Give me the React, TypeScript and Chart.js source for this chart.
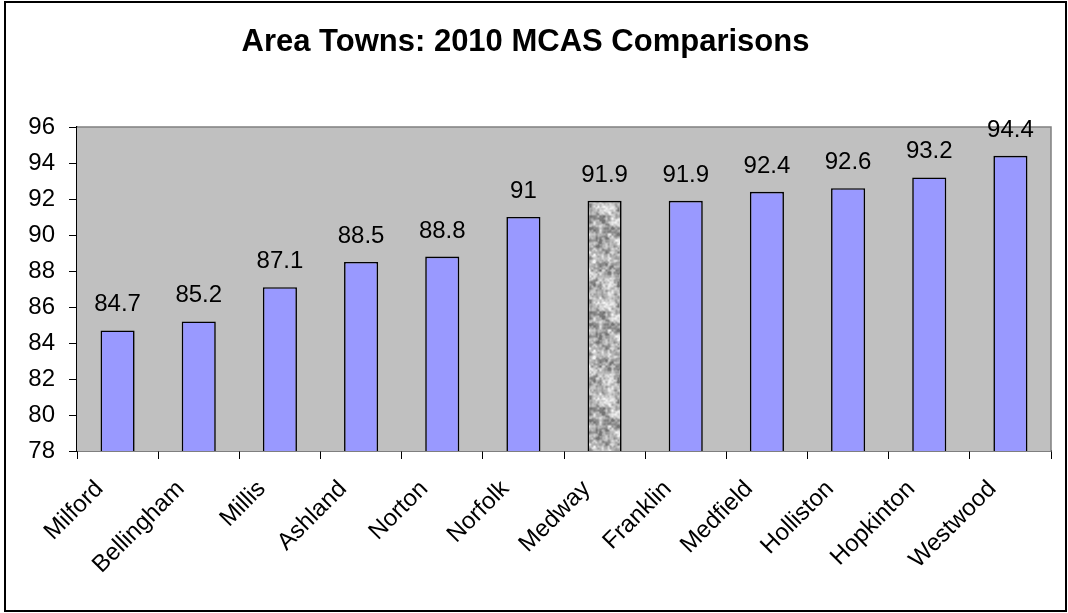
import React, { useEffect, useRef } from "react";
import { Chart, registerables } from "chart.js";

Chart.register(...registerables);

const towns = ["Milford", "Bellingham", "Millis", "Ashland", "Norton", "Norfolk", "Medway", "Franklin", "Medfield", "Holliston", "Hopkinton", "Westwood"];
const scores = [84.7, 85.2, 87.1, 88.5, 88.8, 91, 91.9, 91.9, 92.4, 92.6, 93.2, 94.4];
const highlightTown = "Medway";
const titleText = "Area Towns: 2010 MCAS Comparisons";
const yMin = 78;
const yMax = 96;
const yStep = 2;

const FONT = "Arial, 'Liberation Sans', sans-serif";

function hash(x: number, y: number) {
  const s = Math.sin(x * 12.9898 + y * 78.233) * 43758.5453;
  return s - Math.floor(s);
}

function valueNoise(x: number, y: number, cell: number, size: number) {
  const n = size / cell;
  const gx = x / cell;
  const gy = y / cell;
  const x0 = Math.floor(gx), y0 = Math.floor(gy);
  const fx = gx - x0, fy = gy - y0;
  const sx = fx * fx * (3 - 2 * fx), sy = fy * fy * (3 - 2 * fy);
  const w = (a: number) => ((a % n) + n) % n;
  const a = hash(w(x0), w(y0)), b = hash(w(x0 + 1), w(y0));
  const c = hash(w(x0), w(y0 + 1)), d = hash(w(x0 + 1), w(y0 + 1));
  return (a * (1 - sx) + b * sx) * (1 - sy) + (c * (1 - sx) + d * sx) * sy;
}

function makeGranite(ctx: CanvasRenderingContext2D) {
  const size = 96;
  const off = document.createElement("canvas");
  off.width = size;
  off.height = size;
  const octx = off.getContext("2d")!;
  const img = octx.createImageData(size, size);
  for (let y = 0; y < size; y++) {
    for (let x = 0; x < size; x++) {
      const v = 0.4 * valueNoise(x, y, 6, size) + 0.35 * valueNoise(x, y, 3, size) + 0.25 * valueNoise(x, y, 2, size);
      const t = Math.max(0, Math.min(1, (v - 0.2) / 0.6));
      const g = Math.round(115 + t * 130);
      const i = (y * size + x) * 4;
      img.data[i] = g;
      img.data[i + 1] = g;
      img.data[i + 2] = g;
      img.data[i + 3] = 255;
    }
  }
  octx.putImageData(img, 0, 0);
  return ctx.createPattern(off, "repeat");
}

const plotBg = {
  id: "plotBg",
  beforeDatasetsDraw(chart: any) {
    const { ctx, chartArea: a } = chart;
    ctx.save();
    ctx.fillStyle = "#C0C0C0";
    ctx.fillRect(a.left, a.top, a.right - a.left, a.bottom - a.top);
    ctx.strokeStyle = "#808080";
    ctx.lineWidth = 1.5;
    ctx.beginPath();
    ctx.moveTo(a.left, a.top);
    ctx.lineTo(a.right, a.top);
    ctx.lineTo(a.right, a.bottom);
    ctx.stroke();
    ctx.restore();
  },
};

const outerBorder = {
  id: "outerBorder",
  afterDraw(chart: any) {
    const { ctx } = chart;
    ctx.save();
    ctx.strokeStyle = "#000";
    ctx.lineWidth = 2;
    ctx.strokeRect(5, 2, 1061, 609);
    ctx.restore();
  },
};

const valueLabels = {
  id: "valueLabels",
  afterDatasetsDraw(chart: any) {
    const { ctx } = chart;
    const meta = chart.getDatasetMeta(0);
    ctx.save();
    ctx.font = `24px ${FONT}`;
    ctx.fillStyle = "#000";
    ctx.textAlign = "center";
    ctx.textBaseline = "alphabetic";
    meta.data.forEach((bar: any, i: number) => {
      ctx.fillText(String(scores[i]), bar.x, bar.y - 19);
    });
    ctx.restore();
  },
};

export default function App() {
  const ref = useRef<HTMLCanvasElement>(null);
  useEffect(() => {
    const canvas = ref.current!;
    const ctx = canvas.getContext("2d")!;
    const granite = makeGranite(ctx);
    const colors = towns.map((t) => (t === highlightTown ? granite : "#9999FF"));
    const chart = new Chart(canvas, {
      type: "bar",
      data: {
        labels: towns,
        datasets: [
          {
            data: scores,
            backgroundColor: colors as any,
            borderColor: "#000",
            borderWidth: 1.6,
            borderSkipped: false,
            barPercentage: 0.42,
            categoryPercentage: 1,
          },
        ],
      },
      options: {
        responsive: false,
        animation: false,
        devicePixelRatio: 1,
        layout: { padding: { left: 0, right: 17, top: 0, bottom: 0 } },
        plugins: {
          legend: { display: false },
          tooltip: { enabled: false },
          title: {
            display: true,
            text: titleText,
            color: "#000",
            font: { family: FONT, size: 31, weight: "bold", lineHeight: 1.2 },
            padding: { top: 24, bottom: 65.8 },
          },
        },
        scales: {
          x: {
            afterFit: (s: any) => {
              s.height = 162;
            },
            grid: {
              offset: true,
              drawOnChartArea: false,
              drawTicks: true,
              tickLength: 8,
              color: "#000",
              lineWidth: 1,
            },
            border: { display: true, color: "#000", width: 1.5 },
            ticks: {
              color: "#000",
              font: { family: FONT, size: 24 },
              maxRotation: 45,
              minRotation: 45,
              autoSkip: false,
              padding: 16,
              labelOffset: -18,
            },
          },
          y: {
            min: yMin,
            max: yMax,
            afterFit: (s: any) => {
              s.width = 77;
            },
            grid: {
              drawOnChartArea: false,
              drawTicks: true,
              tickLength: 8,
              color: "#000",
              lineWidth: 1,
            },
            border: { display: true, color: "#000", width: 1.5 },
            ticks: {
              stepSize: yStep,
              color: "#000",
              font: { family: FONT, size: 24 },
              padding: 14,
            },
          },
        },
      },
      plugins: [plotBg, valueLabels, outerBorder],
    });
    return () => chart.destroy();
  }, []);
  return (
    <div style={{ position: "fixed", left: 0, top: 0, width: 1068, height: 613, background: "#fff" }}>
      <canvas ref={ref} width={1068} height={613} style={{ display: "block" }} />
    </div>
  );
}
